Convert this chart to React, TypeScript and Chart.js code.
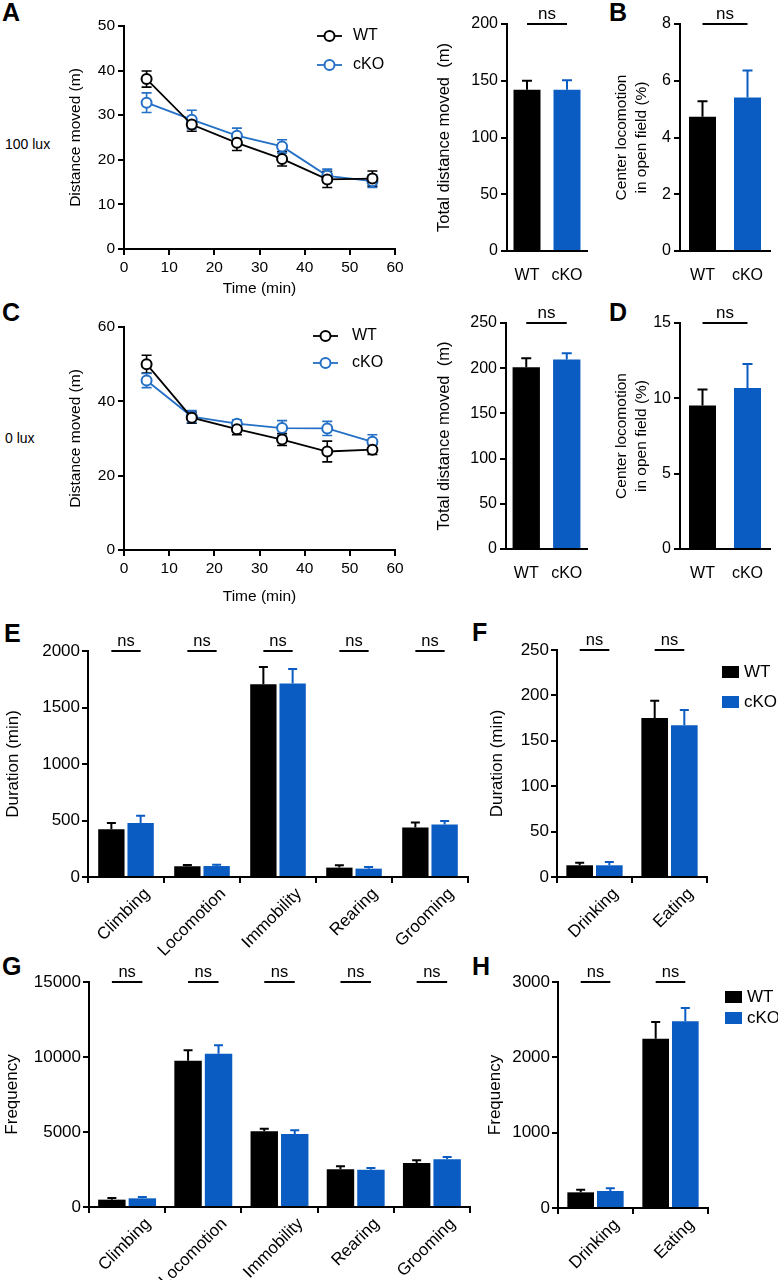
import React, { useEffect, useRef } from 'react';
import { Chart, registerables } from 'chart.js';
Chart.register(...registerables);

const FONT = 'Arial, "Liberation Sans", Helvetica, sans-serif';
const BLACK = '#000000';
const BLUE = '#0a5cc2';
const LBLUE = '#2470c6';

// ---------- data ----------
const timePoints = [5, 15, 25, 35, 45, 55];
const wt100 = [38.1, 27.9, 23.8, 20.2, 15.6, 15.8];
const wt100Err = [1.8, 1.5, 1.7, 1.6, 1.8, 1.7];
const cko100 = [32.8, 29.0, 25.4, 23.0, 16.4, 15.2];
const cko100Err = [2.2, 2.1, 1.7, 1.5, 1.5, 1.4];
const wt0 = [50.0, 35.6, 32.5, 29.7, 26.5, 27.0];
const wt0Err = [2.4, 1.5, 1.5, 1.6, 2.8, 1.3];
const cko0 = [45.6, 35.9, 34.0, 32.8, 32.7, 29.1];
const cko0Err = [1.9, 1.6, 1.0, 2.0, 1.9, 1.9];

const groups = ['WT', 'cKO'];
const totalDist100 = [142, 142];
const totalDist100Err = [8, 8.5];
const center100 = [4.73, 5.41];
const center100Err = [0.55, 0.95];
const totalDist0 = [201, 209.5];
const totalDist0Err = [10, 7];
const center0 = [9.53, 10.68];
const center0Err = [1.05, 1.6];

const behaviors = ['Climbing', 'Locomotion', 'Immobility', 'Rearing', 'Grooming'];
const durWT = [422, 95, 1705, 83, 437];
const durWTErr = [56, 11, 153, 20, 45];
const durCKO = [478, 97, 1713, 74, 464];
const durCKOErr = [65, 12, 127, 15, 32];

const ingestion = ['Drinking', 'Eating'];
const ingDurWT = [12.9, 175];
const ingDurWTErr = [2.9, 19];
const ingDurCKO = [12.9, 167];
const ingDurCKOErr = [3.6, 17];

const freqWT = [489, 9756, 5044, 2511, 2933];
const freqWTErr = [111, 688, 178, 200, 178];
const freqCKO = [578, 10222, 4867, 2489, 3178];
const freqCKOErr = [89, 556, 244, 111, 155];

const ingFreqWT = [208, 2248];
const ingFreqWTErr = [35, 221];
const ingFreqCKO = [226, 2478];
const ingFreqCKOErr = [35, 177];

// ---------- layout frames (plot area in page px) ----------
type Frame = { l: number; t: number; r: number; b: number; yW: number; xH: number; pT: number; pR: number };
const F_A: Frame = { l: 124, t: 26, r: 395, b: 249, yW: 58, xH: 49, pT: 20, pR: 22 };
const F_C: Frame = { l: 124, t: 327, r: 395, b: 550, yW: 58, xH: 56, pT: 20, pR: 22 };
const F_Ab: Frame = { l: 507, t: 24, r: 587, b: 251, yW: 72, xH: 30, pT: 24, pR: 8 };
const F_B: Frame = { l: 680, t: 24, r: 770, b: 251, yW: 68, xH: 30, pT: 24, pR: 8 };
const F_Cb: Frame = { l: 506, t: 323, r: 587, b: 549, yW: 71, xH: 30, pT: 24, pR: 8 };
const F_D: Frame = { l: 680, t: 323, r: 770, b: 549, yW: 68, xH: 30, pT: 24, pR: 8 };
const F_E: Frame = { l: 88, t: 651, r: 468, b: 877, yW: 85, xH: 95, pT: 26, pR: 8 };
const F_F: Frame = { l: 557, t: 650, r: 707, b: 877, yW: 70, xH: 95, pT: 26, pR: 71 };
const F_G: Frame = { l: 89, t: 982, r: 470, b: 1207, yW: 87, xH: 73, pT: 26, pR: 8 };
const F_H: Frame = { l: 558, t: 982, r: 708, b: 1208, yW: 73, xH: 72, pT: 26, pR: 70 };

// ---------- plugins ----------
function makeErrPlugin(both: boolean, cap: number, lw: number) {
  const draw = (chart: any) => {
    const ctx = chart.ctx;
    const ys = chart.scales.y;
    chart.data.datasets.forEach((ds: any, di: number) => {
      const errs = ds.errors;
      if (!errs) return;
      const meta = chart.getDatasetMeta(di);
      meta.data.forEach((el: any, i: number) => {
        const d = ds.data[i];
        const v = typeof d === 'object' ? d.y : d;
        const e = errs[i];
        const col = Array.isArray(ds.errColor) ? ds.errColor[i] : ds.errColor;
        const x = el.x;
        const yT = ys.getPixelForValue(v + e);
        const yB = ys.getPixelForValue(both ? v - e : v);
        ctx.save();
        ctx.strokeStyle = col;
        ctx.lineWidth = lw;
        ctx.beginPath();
        ctx.moveTo(x, yB);
        ctx.lineTo(x, yT);
        ctx.moveTo(x - cap / 2, yT);
        ctx.lineTo(x + cap / 2, yT);
        if (both) {
          ctx.moveTo(x - cap / 2, yB);
          ctx.lineTo(x + cap / 2, yB);
        }
        ctx.stroke();
        ctx.restore();
      });
    });
  };
  return both
    ? { id: 'errBarsBoth', beforeDatasetsDraw: draw }
    : { id: 'errBarsUp', afterDatasetsDraw: draw };
}

function makeNsPlugin(mode: 'single' | 'groups', size: number) {
  return {
    id: 'nsMarks',
    afterDraw(chart: any) {
      const ctx = chart.ctx;
      const top = chart.chartArea.top;
      const pairs: [number, number][] = [];
      if (mode === 'single') {
        const m = chart.getDatasetMeta(0);
        pairs.push([m.data[0].x, m.data[1].x]);
      } else {
        const m0 = chart.getDatasetMeta(0);
        const m1 = chart.getDatasetMeta(1);
        m0.data.forEach((el: any, i: number) => pairs.push([el.x, m1.data[i].x]));
      }
      ctx.save();
      ctx.strokeStyle = '#000';
      ctx.lineWidth = 2;
      ctx.fillStyle = '#000';
      ctx.font = `${size}px ${FONT}`;
      ctx.textAlign = 'center';
      ctx.textBaseline = 'alphabetic';
      pairs.forEach(([a, b]) => {
        ctx.beginPath();
        ctx.moveTo(a, top);
        ctx.lineTo(b, top);
        ctx.stroke();
        ctx.fillText('ns', (a + b) / 2, top - 5.5);
      });
      ctx.restore();
    },
  };
}

function makeLineLegend(x0: number, y0: number, dy: number, tx: number) {
  return {
    id: 'lineLegend',
    afterDraw(chart: any) {
      const ctx = chart.ctx;
      const { left, top } = chart.chartArea;
      const items = [
        { label: 'WT', color: BLACK },
        { label: 'cKO', color: LBLUE },
      ];
      ctx.save();
      items.forEach((it, i) => {
        const y = top + y0 + i * dy;
        const xs = left + x0;
        ctx.strokeStyle = it.color;
        ctx.lineWidth = 1.8;
        ctx.beginPath();
        ctx.moveTo(xs, y);
        ctx.lineTo(xs + 25, y);
        ctx.stroke();
        ctx.beginPath();
        ctx.arc(xs + 12.5, y, 5, 0, Math.PI * 2);
        ctx.fillStyle = '#fff';
        ctx.fill();
        ctx.lineWidth = 2;
        ctx.stroke();
        ctx.fillStyle = '#000';
        ctx.font = `16px ${FONT}`;
        ctx.textAlign = 'left';
        ctx.textBaseline = 'middle';
        ctx.fillText(it.label, left + tx, y);
      });
      ctx.restore();
    },
  };
}

function makeBoxLegend(dx: number, y0: number, dy: number, tx: number) {
  return {
    id: 'boxLegend',
    afterDraw(chart: any) {
      const ctx = chart.ctx;
      const { right, top } = chart.chartArea;
      const items = [
        { label: 'WT', color: BLACK },
        { label: 'cKO', color: BLUE },
      ];
      ctx.save();
      items.forEach((it, i) => {
        const y = top + y0 + i * dy;
        ctx.fillStyle = it.color;
        ctx.fillRect(right + dx, y - 6, 17, 12);
        ctx.fillStyle = '#000';
        ctx.font = `17px ${FONT}`;
        ctx.textAlign = 'left';
        ctx.textBaseline = 'middle';
        ctx.fillText(it.label, right + tx, y);
      });
      ctx.restore();
    },
  };
}

// ---------- scales ----------
const GRID_TICKS = {
  display: true,
  drawOnChartArea: false,
  drawTicks: true,
  tickLength: 6,
  tickWidth: 2,
  lineWidth: 2,
  color: '#000',
};
const BORDER = { display: true, color: '#000', width: 2 };

function yScale(o: { min: number; max: number; step: number; title: string | string[]; size: number; titleSize: number; lh?: number; yW: number; pad?: number }) {
  return {
    type: 'linear',
    min: o.min,
    max: o.max,
    ticks: { stepSize: o.step, color: '#000', font: { family: FONT, size: o.size }, padding: o.pad ?? 3, callback: (v: any) => String(v) },
    grid: GRID_TICKS,
    border: BORDER,
    title: { display: true, text: o.title, color: '#000', padding: 0, font: { family: FONT, size: o.titleSize, lineHeight: o.lh ?? 1.2 } },
    afterFit: (s: any) => {
      s.width = o.yW;
      s.paddingTop = 0;
      s.paddingBottom = 0;
    },
  };
}

function xLinear(xH: number) {
  return {
    type: 'linear',
    min: 0,
    max: 60,
    ticks: { stepSize: 10, color: '#000', font: { family: FONT, size: 15.5 }, padding: 3, callback: (v: any) => String(v) },
    grid: GRID_TICKS,
    border: BORDER,
    title: { display: true, text: 'Time (min)', color: '#000', padding: 0, font: { family: FONT, size: 15.5, lineHeight: 1.2 } },
    afterFit: (s: any) => {
      s.height = xH;
      s.paddingLeft = 0;
      s.paddingRight = 0;
    },
  };
}

function xCat2(xH: number) {
  return {
    type: 'category',
    offset: true,
    grid: { display: false },
    border: BORDER,
    ticks: { color: '#000', font: { family: FONT, size: 16 }, padding: 7, autoSkip: false, minRotation: 0, maxRotation: 0 },
    afterFit: (s: any) => {
      s.height = xH;
      s.paddingLeft = 0;
      s.paddingRight = 0;
    },
  };
}

function xCatRot(xH: number, labelOffset: number) {
  return {
    type: 'category',
    offset: true,
    grid: { ...GRID_TICKS, offset: true },
    border: BORDER,
    ticks: { color: '#000', font: { family: FONT, size: 17 }, padding: 1, autoSkip: false, minRotation: 45, maxRotation: 45, labelOffset },
    afterFit: (s: any) => {
      s.height = xH;
      s.paddingLeft = 0;
      s.paddingRight = 0;
    },
  };
}

function baseOptions(f: Frame, scales: any) {
  return {
    responsive: false,
    maintainAspectRatio: false,
    animation: false,
    devicePixelRatio: 1,
    events: [],
    layout: { padding: { top: f.pT, right: f.pR, left: 0, bottom: 0 } },
    scales,
    plugins: { legend: { display: false }, tooltip: { enabled: false } },
  };
}

// ---------- chart builders ----------
function lineConfig(f: Frame, wt: number[], wtE: number[], ko: number[], koE: number[], yMax: number, yStep: number, legend: any) {
  const mk = (label: string, vals: number[], errs: number[], color: string) => ({
    label,
    data: timePoints.map((t, i) => ({ x: t, y: vals[i] })),
    errors: errs,
    errColor: color,
    borderColor: color,
    borderWidth: 1.8,
    pointRadius: 5,
    pointBorderWidth: 2,
    pointBackgroundColor: '#fff',
    pointBorderColor: color,
    tension: 0,
    clip: false,
  });
  return {
    type: 'line',
    data: { datasets: [mk('WT', wt, wtE, BLACK), mk('cKO', ko, koE, LBLUE)] },
    options: baseOptions(f, {
      x: xLinear(f.xH),
      y: yScale({ min: 0, max: yMax, step: yStep, title: 'Distance moved (m)', size: 15.5, titleSize: 15.5, yW: f.yW }),
    }),
    plugins: [makeErrPlugin(true, 10, 1.6), legend],
  };
}

function pairBarConfig(f: Frame, vals: number[], errs: number[], yMax: number, yStep: number, title: string | string[], titleSize: number, lh: number, barPct: number) {
  return {
    type: 'bar',
    data: {
      labels: groups,
      datasets: [
        {
          data: vals,
          errors: errs,
          errColor: [BLACK, BLUE],
          backgroundColor: [BLACK, BLUE],
          borderWidth: 0,
          barPercentage: barPct,
          categoryPercentage: 1,
        },
      ],
    },
    options: baseOptions(f, {
      x: xCat2(f.xH),
      y: yScale({ min: 0, max: yMax, step: yStep, title, size: 16, titleSize, lh, yW: f.yW }),
    }),
    plugins: [makeErrPlugin(false, 10, 2), makeNsPlugin('single', 17)],
  };
}

function groupBarConfig(f: Frame, labels: string[], wt: number[], wtE: number[], ko: number[], koE: number[], yMax: number, yStep: number, title: string, catPct: number, labelOffset: number, legend: any) {
  const mk = (label: string, vals: number[], errs: number[], color: string) => ({
    label,
    data: vals,
    errors: errs,
    errColor: color,
    backgroundColor: color,
    borderWidth: 0,
    barPercentage: 0.9,
    categoryPercentage: catPct,
  });
  const plugins: any[] = [makeErrPlugin(false, 9, 2), makeNsPlugin('groups', 16.5)];
  if (legend) plugins.push(legend);
  return {
    type: 'bar',
    data: { labels, datasets: [mk('WT', wt, wtE, BLACK), mk('cKO', ko, koE, BLUE)] },
    options: baseOptions(f, {
      x: xCatRot(f.xH, labelOffset),
      y: yScale({ min: 0, max: yMax, step: yStep, title, size: 17, titleSize: 17, yW: f.yW, pad: 2 }),
    }),
    plugins,
  };
}

// ---------- components ----------
function ChartCanvas({ frame, build }: { frame: Frame; build: () => any }) {
  const ref = useRef<HTMLCanvasElement>(null);
  const left = frame.l - frame.yW;
  const top = frame.t - frame.pT;
  const width = frame.r + frame.pR - left;
  const height = frame.b + frame.xH - top;
  useEffect(() => {
    const chart = new Chart(ref.current as HTMLCanvasElement, build() as any);
    return () => chart.destroy();
  }, []);
  return (
    <canvas
      ref={ref}
      width={width}
      height={height}
      style={{ position: 'absolute', left, top, width, height }}
    />
  );
}

function Letter({ ch, left, top }: { ch: string; left: number; top: number }) {
  return (
    <div style={{ position: 'absolute', left, top, fontFamily: FONT, fontWeight: 'bold', fontSize: 25, lineHeight: '25px', color: '#000' }}>
      {ch}
    </div>
  );
}

function SideLabel({ text, left, top }: { text: string; left: number; top: number }) {
  return (
    <div style={{ position: 'absolute', left, top, fontFamily: FONT, fontSize: 14, lineHeight: '16px', color: '#000', whiteSpace: 'nowrap' }}>
      {text}
    </div>
  );
}

export default function App() {
  return (
    <div style={{ position: 'absolute', left: 0, top: 0, width: 778, height: 1280, background: '#fff', overflow: 'hidden' }}>
      <Letter ch="A" left={2} top={0} />
      <Letter ch="B" left={609} top={0} />
      <Letter ch="C" left={2} top={300} />
      <Letter ch="D" left={609} top={300} />
      <Letter ch="E" left={4} top={621} />
      <Letter ch="F" left={472} top={620} />
      <Letter ch="G" left={2} top={954} />
      <Letter ch="H" left={472} top={954} />
      <SideLabel text="100 lux" left={5} top={136} />
      <SideLabel text="0 lux" left={5} top={430} />

      <ChartCanvas frame={F_A} build={() => lineConfig(F_A, wt100, wt100Err, cko100, cko100Err, 50, 10, makeLineLegend(193, 10, 29, 229))} />
      <ChartCanvas frame={F_C} build={() => lineConfig(F_C, wt0, wt0Err, cko0, cko0Err, 60, 20, makeLineLegend(189, 9, 27, 228))} />

      <ChartCanvas frame={F_Ab} build={() => pairBarConfig(F_Ab, totalDist100, totalDist100Err, 200, 50, 'Total distance moved  (m)', 16.5, 1.2, 0.675)} />
      <ChartCanvas frame={F_B} build={() => pairBarConfig(F_B, center100, center100Err, 8, 2, ['Center locomotion', 'in open field (%)'], 15.5, 1.29, 0.6)} />
      <ChartCanvas frame={F_Cb} build={() => pairBarConfig(F_Cb, totalDist0, totalDist0Err, 250, 50, 'Total distance moved  (m)', 16.5, 1.2, 0.675)} />
      <ChartCanvas frame={F_D} build={() => pairBarConfig(F_D, center0, center0Err, 15, 5, ['Center locomotion', 'in open field (%)'], 15.5, 1.29, 0.6)} />

      <ChartCanvas frame={F_E} build={() => groupBarConfig(F_E, behaviors, durWT, durWTErr, durCKO, durCKOErr, 2000, 500, 'Duration (min)', 0.77, 21, null)} />
      <ChartCanvas frame={F_F} build={() => groupBarConfig(F_F, ingestion, ingDurWT, ingDurWTErr, ingDurCKO, ingDurCKOErr, 250, 50, 'Duration (min)', 0.79, 21, makeBoxLegend(15, 22, 30, 37))} />
      <ChartCanvas frame={F_G} build={() => groupBarConfig(F_G, behaviors, freqWT, freqWTErr, freqCKO, freqCKOErr, 15000, 5000, 'Frequency', 0.8, 21, null)} />
      <ChartCanvas frame={F_H} build={() => groupBarConfig(F_H, ingestion, ingFreqWT, ingFreqWTErr, ingFreqCKO, ingFreqCKOErr, 3000, 1000, 'Frequency', 0.79, 21, makeBoxLegend(17, 15, 21, 39))} />
    </div>
  );
}
